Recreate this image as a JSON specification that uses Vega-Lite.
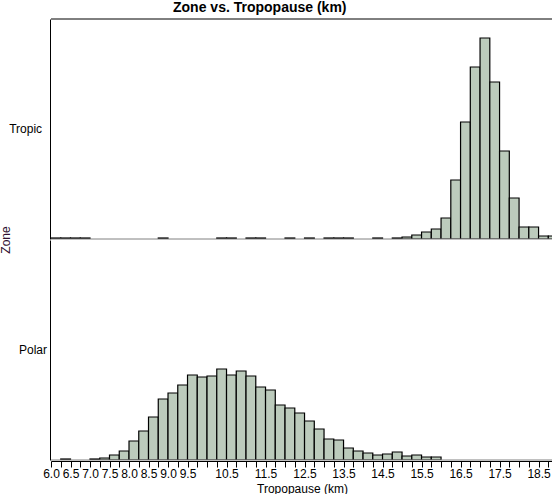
{
  "$schema": "https://vega.github.io/schema/vega-lite/v6.json",
  "padding": 0,
  "background": "white",
  "title": {
    "text": "Zone vs. Tropopause (km)",
    "font": "Liberation Sans",
    "fontSize": 14,
    "fontWeight": "bold",
    "color": "black",
    "anchor": "middle",
    "dx": -17,
    "offset": 4
  },
  "data": {
    "values": [
      {"zone": "Tropic", "bin_start": 6.0, "bin_end": 6.25, "count": 1},
      {"zone": "Tropic", "bin_start": 6.25, "bin_end": 6.5, "count": 1},
      {"zone": "Tropic", "bin_start": 6.5, "bin_end": 6.75, "count": 1},
      {"zone": "Tropic", "bin_start": 6.75, "bin_end": 7.0, "count": 1},
      {"zone": "Tropic", "bin_start": 8.75, "bin_end": 9.0, "count": 1},
      {"zone": "Tropic", "bin_start": 10.25, "bin_end": 10.5, "count": 1},
      {"zone": "Tropic", "bin_start": 10.5, "bin_end": 10.75, "count": 1},
      {"zone": "Tropic", "bin_start": 11.0, "bin_end": 11.25, "count": 1},
      {"zone": "Tropic", "bin_start": 11.25, "bin_end": 11.5, "count": 1},
      {"zone": "Tropic", "bin_start": 12.0, "bin_end": 12.25, "count": 1},
      {"zone": "Tropic", "bin_start": 12.5, "bin_end": 12.75, "count": 1},
      {"zone": "Tropic", "bin_start": 13.0, "bin_end": 13.25, "count": 1},
      {"zone": "Tropic", "bin_start": 13.25, "bin_end": 13.5, "count": 1},
      {"zone": "Tropic", "bin_start": 13.5, "bin_end": 13.75, "count": 1},
      {"zone": "Tropic", "bin_start": 14.25, "bin_end": 14.5, "count": 1},
      {"zone": "Tropic", "bin_start": 14.75, "bin_end": 15.0, "count": 1},
      {"zone": "Tropic", "bin_start": 15.0, "bin_end": 15.25, "count": 2},
      {"zone": "Tropic", "bin_start": 15.25, "bin_end": 15.5, "count": 4},
      {"zone": "Tropic", "bin_start": 15.5, "bin_end": 15.75, "count": 7},
      {"zone": "Tropic", "bin_start": 15.75, "bin_end": 16.0, "count": 10},
      {"zone": "Tropic", "bin_start": 16.0, "bin_end": 16.25, "count": 21},
      {"zone": "Tropic", "bin_start": 16.25, "bin_end": 16.5, "count": 59},
      {"zone": "Tropic", "bin_start": 16.5, "bin_end": 16.75, "count": 117},
      {"zone": "Tropic", "bin_start": 16.75, "bin_end": 17.0, "count": 172},
      {"zone": "Tropic", "bin_start": 17.0, "bin_end": 17.25, "count": 201},
      {"zone": "Tropic", "bin_start": 17.25, "bin_end": 17.5, "count": 157},
      {"zone": "Tropic", "bin_start": 17.5, "bin_end": 17.75, "count": 88},
      {"zone": "Tropic", "bin_start": 17.75, "bin_end": 18.0, "count": 41},
      {"zone": "Tropic", "bin_start": 18.0, "bin_end": 18.25, "count": 12},
      {"zone": "Tropic", "bin_start": 18.25, "bin_end": 18.5, "count": 12},
      {"zone": "Tropic", "bin_start": 18.5, "bin_end": 18.75, "count": 3},
      {"zone": "Tropic", "bin_start": 18.75, "bin_end": 19.0, "count": 3},
      {"zone": "Polar", "bin_start": 6.25, "bin_end": 6.5, "count": 1},
      {"zone": "Polar", "bin_start": 7.0, "bin_end": 7.25, "count": 1},
      {"zone": "Polar", "bin_start": 7.25, "bin_end": 7.5, "count": 2},
      {"zone": "Polar", "bin_start": 7.5, "bin_end": 7.75, "count": 5},
      {"zone": "Polar", "bin_start": 7.75, "bin_end": 8.0, "count": 9},
      {"zone": "Polar", "bin_start": 8.0, "bin_end": 8.25, "count": 19},
      {"zone": "Polar", "bin_start": 8.25, "bin_end": 8.5, "count": 29},
      {"zone": "Polar", "bin_start": 8.5, "bin_end": 8.75, "count": 43},
      {"zone": "Polar", "bin_start": 8.75, "bin_end": 9.0, "count": 61},
      {"zone": "Polar", "bin_start": 9.0, "bin_end": 9.25, "count": 67},
      {"zone": "Polar", "bin_start": 9.25, "bin_end": 9.5, "count": 75},
      {"zone": "Polar", "bin_start": 9.5, "bin_end": 9.75, "count": 85},
      {"zone": "Polar", "bin_start": 9.75, "bin_end": 10.0, "count": 83},
      {"zone": "Polar", "bin_start": 10.0, "bin_end": 10.25, "count": 84},
      {"zone": "Polar", "bin_start": 10.25, "bin_end": 10.5, "count": 91},
      {"zone": "Polar", "bin_start": 10.5, "bin_end": 10.75, "count": 85},
      {"zone": "Polar", "bin_start": 10.75, "bin_end": 11.0, "count": 89},
      {"zone": "Polar", "bin_start": 11.0, "bin_end": 11.25, "count": 84},
      {"zone": "Polar", "bin_start": 11.25, "bin_end": 11.5, "count": 73},
      {"zone": "Polar", "bin_start": 11.5, "bin_end": 11.75, "count": 70},
      {"zone": "Polar", "bin_start": 11.75, "bin_end": 12.0, "count": 55},
      {"zone": "Polar", "bin_start": 12.0, "bin_end": 12.25, "count": 52},
      {"zone": "Polar", "bin_start": 12.25, "bin_end": 12.5, "count": 47},
      {"zone": "Polar", "bin_start": 12.5, "bin_end": 12.75, "count": 39},
      {"zone": "Polar", "bin_start": 12.75, "bin_end": 13.0, "count": 31},
      {"zone": "Polar", "bin_start": 13.0, "bin_end": 13.25, "count": 21},
      {"zone": "Polar", "bin_start": 13.25, "bin_end": 13.5, "count": 20},
      {"zone": "Polar", "bin_start": 13.5, "bin_end": 13.75, "count": 12},
      {"zone": "Polar", "bin_start": 13.75, "bin_end": 14.0, "count": 9},
      {"zone": "Polar", "bin_start": 14.0, "bin_end": 14.25, "count": 7},
      {"zone": "Polar", "bin_start": 14.25, "bin_end": 14.5, "count": 5},
      {"zone": "Polar", "bin_start": 14.5, "bin_end": 14.75, "count": 6},
      {"zone": "Polar", "bin_start": 14.75, "bin_end": 15.0, "count": 8},
      {"zone": "Polar", "bin_start": 15.0, "bin_end": 15.25, "count": 4},
      {"zone": "Polar", "bin_start": 15.25, "bin_end": 15.5, "count": 5},
      {"zone": "Polar", "bin_start": 15.5, "bin_end": 15.75, "count": 3},
      {"zone": "Polar", "bin_start": 15.75, "bin_end": 16.0, "count": 3}
    ]
  },
  "facet": {
    "row": {
      "field": "zone",
      "type": "nominal",
      "sort": ["Tropic", "Polar"],
      "header": {
        "title": "Zone",
        "titleOrient": "left",
        "titleFont": "Liberation Sans",
        "titleFontSize": 12,
        "titleFontWeight": "normal",
        "titleColor": "#301030",
        "titlePadding": -14,
        "labelOrient": "left",
        "labelAngle": 0,
        "labelAlign": "right",
        "labelBaseline": "middle",
        "labelFont": "Liberation Sans",
        "labelFontSize": 12,
        "labelColor": "black",
        "labelPadding": -25
      }
    }
  },
  "spacing": {"row": 0},
  "spec": {
    "width": 502,
    "height": 220,
    "layer": [
      {
        "mark": {"type": "bar", "fill": "#bccbbc", "stroke": "black", "strokeWidth": 1.2, "clip": true},
        "encoding": {
          "x": {
            "field": "bin_start",
            "type": "quantitative",
            "scale": {"domain": [6, 18.87], "nice": false, "zero": false},
            "axis": {
              "title": "Tropopause (km)",
              "titleFont": "Liberation Sans",
              "titleFontSize": 12,
              "titleFontWeight": "normal",
              "titleColor": "black",
              "titlePadding": 4,
              "values": [6, 6.25, 6.5, 6.75, 7, 7.25, 7.5, 7.75, 8, 8.25, 8.5, 8.75, 9, 9.25, 9.5, 9.75, 10, 10.25, 10.5, 10.75, 11, 11.25, 11.5, 11.75, 12, 12.25, 12.5, 12.75, 13, 13.25, 13.5, 13.75, 14, 14.25, 14.5, 14.75, 15, 15.25, 15.5, 15.75, 16, 16.25, 16.5, 16.75, 17, 17.25, 17.5, 17.75, 18, 18.25, 18.5, 18.75],
              "labelExpr": "indexof([6, 6.5, 7, 7.5, 8, 8.5, 9, 9.5, 10.5, 11.5, 12.5, 13.5, 14.5, 15.5, 16.5, 17.5, 18.5], datum.value) >= 0 ? format(datum.value, '.1f') : ''",
              "labelOverlap": false,
              "labelFlush": false,
              "labelFont": "Liberation Sans",
              "labelFontSize": 12,
              "labelColor": "black",
              "labelPadding": 1,
              "tickSize": 6,
              "tickColor": "black",
              "domainColor": "black",
              "grid": false,
              "zindex": 1
            }
          },
          "x2": {"field": "bin_end"},
          "y": {
            "field": "count",
            "type": "quantitative",
            "scale": {"domain": [0, 220], "nice": false},
            "axis": {"title": null, "labels": false, "ticks": false, "grid": false, "domainColor": "black", "minExtent": 0, "maxExtent": 0, "offset": 0}
          },
          "y2": {"datum": 0}
        }
      },
      {
        "transform": [{"filter": "datum.bin_start === 14.75"}],
        "mark": {"type": "rule", "color": "#808080", "strokeWidth": 1},
        "encoding": {"y": {"datum": 0}}
      },
      {
        "transform": [{"filter": "datum.bin_start === 17"}],
        "mark": {"type": "rule", "color": "black", "strokeWidth": 1},
        "encoding": {"y": {"datum": 220}}
      }
    ]
  },
  "config": {
    "view": {"stroke": null},
    "font": "Liberation Sans"
  }
}
